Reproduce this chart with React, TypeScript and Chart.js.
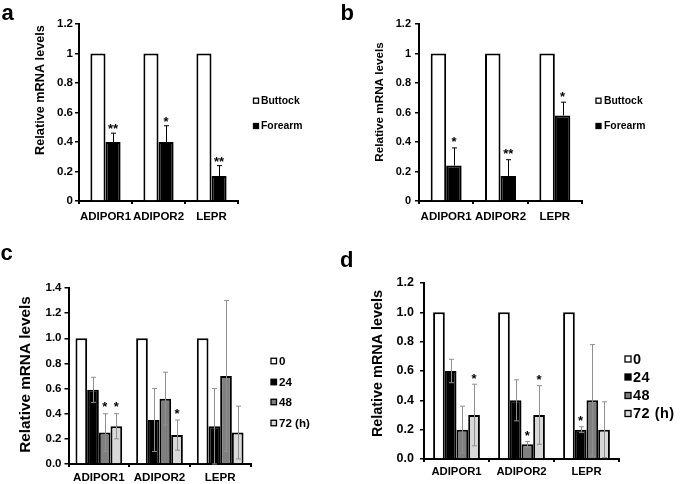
import React, { useEffect, useRef } from 'react';
import { Chart, registerables } from 'chart.js';

Chart.register(...registerables);

// ---------- data ----------
const categories = ['ADIPOR1', 'ADIPOR2', 'LEPR'];

const abLegend = ['Buttock', 'Forearm'];
const timeLegend = ['0', '24', '48', '72 (h)'];

const aButtock = [1, 1, 1];
const aForearm = [0.4, 0.4, 0.17];
const aForearmErr = [0.06, 0.11, 0.07];
const aForearmStars = ['**', '*', '**'];

const bButtock = [1, 1, 1];
const bForearm = [0.24, 0.17, 0.58];
const bForearmErr = [0.12, 0.11, 0.09];
const bForearmStars = ['*', '**', '*'];

const c0 = [1, 1, 1];
const c24 = [0.59, 0.35, 0.3];
const c24Err = [0.1, 0.25, 0.3];
const c24Stars = ['', '', ''];
const c48 = [0.25, 0.52, 0.7];
const c48Err = [0.15, 0.21, 0.6];
const c48Stars = ['*', '', ''];
const c72 = [0.3, 0.23, 0.25];
const c72Err = [0.1, 0.12, 0.21];
const c72Stars = ['*', '*', ''];

const d0 = [1, 1, 1];
const d24 = [0.6, 0.4, 0.2];
const d24Err = [0.08, 0.14, 0.02];
const d24Stars = ['', '', '*'];
const d48 = [0.2, 0.1, 0.4];
const d48Err = [0.16, 0.02, 0.38];
const d48Stars = ['', '*', ''];
const d72 = [0.3, 0.3, 0.2];
const d72Err = [0.21, 0.2, 0.19];
const d72Stars = ['*', '*', ''];

const yTicksAB = ['0', '0.2', '0.4', '0.6', '0.8', '1', '1.2'];
const yTicksC = ['0.0', '0.2', '0.4', '0.6', '0.8', '1.0', '1.2', '1.4'];
const yTicksD = ['0.0', '0.2', '0.4', '0.6', '0.8', '1.0', '1.2'];

const yTitle = 'Relative mRNA levels';

// ---------- styling ----------
const FONT = "'Liberation Sans', Arial, sans-serif";
const WHITE = '#ffffff';
const BLACK = '#000000';
const GRAY = '#7f7f7f';
const LIGHT = '#d9d9d9';

type DS = { label: string; data: number[]; color: string; err?: number[]; stars?: string[] };

type PanelCfg = {
  x: number; y: number; w: number; h: number;
  area: { l: number; t: number; r: number; b: number };
  yMax: number; yTicks: string[]; catPct: number;
  tickFont: number; tickPad: number; xFont: number; xPad: number;
  letter: string; letterX: number; letterY: number;
  title: { x: number; y: number; size: number };
  legend: { sqX: number; sq: number; textX: number; ys: number[]; font: number; spacing: number };
  errBoth: boolean; errColor: string; starGap: number;
  datasets: DS[];
};

const panels: PanelCfg[] = [
  {
    x: 0, y: 0, w: 340, h: 230,
    area: { l: 79, t: 24, r: 238, b: 201 },
    yMax: 1.2, yTicks: yTicksAB, catPct: 0.57,
    tickFont: 11.5, tickPad: 2, xFont: 11.5, xPad: 5.5,
    letter: 'a', letterX: 1.5, letterY: 20,
    title: { x: 40, y: 90, size: 12.7 },
    legend: { sqX: 253.5, sq: 5, textX: 261, ys: [100.7, 126], font: 10.4, spacing: 0 },
    errBoth: false, errColor: BLACK, starGap: 0,
    datasets: [
      { label: abLegend[0], data: aButtock, color: WHITE },
      { label: abLegend[1], data: aForearm, color: BLACK, err: aForearmErr, stars: aForearmStars },
    ],
  },
  {
    x: 340, y: 0, w: 345, h: 230,
    area: { l: 79, t: 24, r: 242, b: 201 },
    yMax: 1.2, yTicks: yTicksAB, catPct: 0.57,
    tickFont: 11, tickPad: 4, xFont: 11.5, xPad: 5.5,
    letter: 'b', letterX: 0.5, letterY: 20,
    title: { x: 40, y: 102, size: 11.7 },
    legend: { sqX: 256, sq: 5, textX: 264, ys: [100.7, 126], font: 10.4, spacing: 0 },
    errBoth: false, errColor: BLACK, starGap: 1.5,
    datasets: [
      { label: abLegend[0], data: bButtock, color: WHITE },
      { label: abLegend[1], data: bForearm, color: BLACK, err: bForearmErr, stars: bForearmStars },
    ],
  },
  {
    x: 0, y: 240, w: 340, h: 244,
    area: { l: 68.5, t: 48, r: 250.5, b: 224 },
    yMax: 1.4, yTicks: yTicksC, catPct: 0.77,
    tickFont: 11.5, tickPad: 3, xFont: 11.6, xPad: 3.5,
    letter: 'c', letterX: 0.5, letterY: 20,
    title: { x: 25.5, y: 134.5, size: 15.3 },
    legend: { sqX: 271, sq: 5.5, textX: 279, ys: [121, 142, 162, 183], font: 11.6, spacing: 0 },
    errBoth: true, errColor: '#909090', starGap: 2.5,
    datasets: [
      { label: timeLegend[0], data: c0, color: WHITE },
      { label: timeLegend[1], data: c24, color: BLACK, err: c24Err, stars: c24Stars },
      { label: timeLegend[2], data: c48, color: GRAY, err: c48Err, stars: c48Stars },
      { label: timeLegend[3], data: c72, color: LIGHT, err: c72Err, stars: c72Stars },
    ],
  },
  {
    x: 340, y: 240, w: 345, h: 244,
    area: { l: 84, t: 43, r: 279, b: 219 },
    yMax: 1.2, yTicks: yTicksD, catPct: 0.72,
    tickFont: 12.5, tickPad: 6, xFont: 11.3, xPad: 3.5,
    letter: 'd', letterX: 0, letterY: 26.7,
    title: { x: 38.3, y: 123.5, size: 14.4 },
    legend: { sqX: 285, sq: 6, textX: 293, ys: [119, 137, 155.5, 173.5], font: 14.5, spacing: 0.5 },
    errBoth: true, errColor: '#909090', starGap: 1.5,
    datasets: [
      { label: timeLegend[0], data: d0, color: WHITE },
      { label: timeLegend[1], data: d24, color: BLACK, err: d24Err, stars: d24Stars },
      { label: timeLegend[2], data: d48, color: GRAY, err: d48Err, stars: d48Stars },
      { label: timeLegend[3], data: d72, color: LIGHT, err: d72Err, stars: d72Stars },
    ],
  },
];

function Panel({ cfg }: { cfg: PanelCfg }) {
  const ref = useRef<HTMLCanvasElement>(null);

  useEffect(() => {
    const canvas = ref.current;
    if (!canvas) return;

    const decor = {
      id: 'decor',
      afterDatasetsDraw(chart: any) {
        const ctx = chart.ctx as CanvasRenderingContext2D;
        const ys = chart.scales.y;
        ctx.save();
        cfg.datasets.forEach((d, i) => {
          if (!d.err) return;
          const meta = chart.getDatasetMeta(i);
          meta.data.forEach((bar: any, j: number) => {
            const v = d.data[j];
            const e = d.err![j];
            const x = Math.round(bar.x) + 0.5;
            const yT = ys.getPixelForValue(v + e);
            const yB = cfg.errBoth ? ys.getPixelForValue(Math.max(0, v - e)) : bar.y;
            ctx.strokeStyle = cfg.errColor;
            ctx.lineWidth = 1;
            ctx.beginPath();
            ctx.moveTo(x, yT);
            ctx.lineTo(x, yB);
            ctx.moveTo(x - 2.5, yT);
            ctx.lineTo(x + 2.5, yT);
            if (cfg.errBoth) {
              ctx.moveTo(x - 2.5, yB);
              ctx.lineTo(x + 2.5, yB);
            }
            ctx.stroke();
            const s = d.stars ? d.stars[j] : '';
            if (s) {
              ctx.fillStyle = BLACK;
              ctx.font = `bold 13px ${FONT}`;
              ctx.textAlign = 'center';
              ctx.textBaseline = 'alphabetic';
              ctx.fillText(s, bar.x, yT - cfg.starGap);
            }
          });
        });
        ctx.restore();
      },
      afterDraw(chart: any) {
        const ctx = chart.ctx as CanvasRenderingContext2D;
        ctx.save();
        // panel letter
        ctx.fillStyle = BLACK;
        ctx.font = `bold 22px ${FONT}`;
        ctx.textAlign = 'left';
        ctx.textBaseline = 'alphabetic';
        ctx.fillText(cfg.letter, cfg.letterX, cfg.letterY);
        // y title
        ctx.save();
        ctx.translate(cfg.title.x, cfg.title.y);
        ctx.rotate(-Math.PI / 2);
        ctx.font = `bold ${cfg.title.size}px ${FONT}`;
        ctx.textAlign = 'center';
        ctx.textBaseline = 'middle';
        ctx.fillText(yTitle, 0, 0);
        ctx.restore();
        // legend
        const lg = cfg.legend;
        cfg.datasets.forEach((d, i) => {
          const cy = lg.ys[i];
          ctx.fillStyle = d.color;
          ctx.fillRect(lg.sqX, cy - lg.sq / 2, lg.sq, lg.sq);
          ctx.strokeStyle = BLACK;
          ctx.lineWidth = 1.3;
          ctx.strokeRect(lg.sqX, cy - lg.sq / 2, lg.sq, lg.sq);
          ctx.fillStyle = BLACK;
          ctx.font = `bold ${lg.font}px ${FONT}`;
          ctx.textAlign = 'left';
          ctx.textBaseline = 'middle';
          (ctx as any).letterSpacing = `${lg.spacing}px`;
          ctx.fillText(d.label, lg.textX, cy + 0.5);
          (ctx as any).letterSpacing = '0px';
        });
        ctx.restore();
      },
    };

    const chart = new Chart(canvas, {
      type: 'bar',
      data: {
        labels: categories,
        datasets: cfg.datasets.map((d) => ({
          label: d.label,
          data: d.data,
          backgroundColor: d.color,
          borderColor: BLACK,
          borderWidth: 2,
          categoryPercentage: cfg.catPct,
          barPercentage: 1,
        })),
      },
      options: {
        responsive: false,
        animation: false,
        devicePixelRatio: 1,
        layout: {
          padding: { left: 0, top: cfg.area.t, right: cfg.w - cfg.area.r, bottom: 0 },
        },
        plugins: { legend: { display: false }, tooltip: { enabled: false }, title: { display: false } },
        scales: {
          x: {
            offset: true,
            grid: { offset: true, drawOnChartArea: false, drawTicks: true, tickLength: 3, color: BLACK, lineWidth: 2 },
            border: { display: true, color: BLACK, width: 2 },
            ticks: {
              color: BLACK,
              font: { family: FONT, size: cfg.xFont, weight: 'bold' },
              padding: cfg.xPad,
              maxRotation: 0,
              autoSkip: false,
            },
            afterFit: (s: any) => { s.height = cfg.h - cfg.area.b; },
          },
          y: {
            min: 0,
            max: cfg.yMax,
            grid: { drawOnChartArea: false, drawTicks: true, tickLength: 4, color: BLACK, lineWidth: 1.5 },
            border: { display: true, color: BLACK, width: 2 },
            ticks: {
              stepSize: 0.2,
              color: BLACK,
              padding: cfg.tickPad,
              font: { family: FONT, size: cfg.tickFont, weight: 'bold' },
              callback: (_v: any, i: number) => cfg.yTicks[i],
            },
            afterFit: (s: any) => { s.width = cfg.area.l; },
          },
        },
      } as any,
      plugins: [decor],
    });

    return () => chart.destroy();
  }, [cfg]);

  return (
    <canvas
      ref={ref}
      width={cfg.w}
      height={cfg.h}
      style={{ position: 'absolute', left: cfg.x, top: cfg.y, width: cfg.w, height: cfg.h }}
    />
  );
}

export default function App() {
  return (
    <div style={{ position: 'fixed', left: 0, top: 0, width: 685, height: 484, background: '#fff', overflow: 'hidden' }}>
      {panels.map((p) => (
        <Panel key={p.letter} cfg={p} />
      ))}
    </div>
  );
}
